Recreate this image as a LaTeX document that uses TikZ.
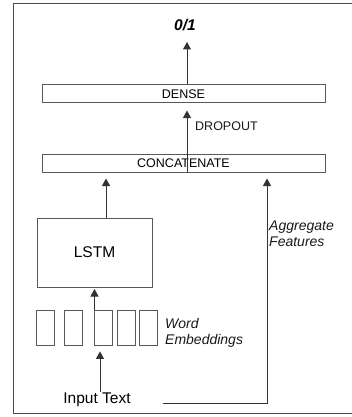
\documentclass[tikz,border=0pt]{standalone}
\usepackage{fontspec}
\setmainfont{Liberation Sans}
\usetikzlibrary{arrows.meta}
\begin{document}
\begin{tikzpicture}[x=1pt,y=-1pt,
  wire/.style={draw=black!80, line width=1pt},
  arr/.style={wire, -{Triangle[length=7.5pt,width=8pt]}, shorten >=6pt},
  layer/.style={draw=black!65, line width=1pt, minimum width=283pt, minimum height=18pt, inner sep=0pt, font=\fontsize{12.5}{14}\selectfont},
  emb/.style={draw=black!65, line width=0.8pt, minimum width=18pt, minimum height=35pt, inner sep=0pt},
  lbl/.style={font=\fontsize{14}{16}\selectfont\itshape, align=left, inner sep=0pt, text=black!90},
  big/.style={font=\fontsize{15.5}{18}\selectfont, inner sep=0pt, text=black}]
\useasboundingbox (0,0) rectangle (352,417);
\fill[white] (0,0) rectangle (352,417);
% frame
\draw[black!70, line width=1pt] (360,4) -- (13,4) -- (13,413) -- (360,413);
% layers
\node[layer] (dense) at (183.5,94) {DENSE};
\node[layer] (concat) at (183.5,163) {CONCATENATE};
\node[big, font=\fontsize{15.5}{18}\selectfont\bfseries\itshape] (out) at (185,25) {0/1};
\coordinate (outtip) at (187,42);
\draw[arr, shorten >=0pt] (dense.north -| outtip) -- (outtip);
% dropout
\coordinate (dx) at (187,0);
\draw[arr, shorten >=7pt] (concat.south -| dx) -- (dense.south -| dx);
\node[font=\fontsize{12.5}{14}\selectfont, inner sep=0pt, anchor=west, text=black!90] (drop) at (195,126) {DROPOUT};
% LSTM
\node[draw=black!65, line width=1pt, minimum width=115pt, minimum height=69pt, inner sep=0pt, font=\fontsize{15.5}{18}\selectfont] (lstm) at (94.5,252.5) {LSTM};
\coordinate (lx) at (106,0);
\draw[arr] (lstm.north -| lx) -- (concat.south -| lx);
% embeddings
\node[emb] (e1) at (45,327.5) {};
\node[emb] (e2) at (73.5,327.5) {};
\node[emb] (e3) at (103.5,327.5) {};
\node[emb] (e4) at (126,327.5) {};
\node[emb] (e5) at (148.5,327.5) {};
\node[lbl, anchor=west] (wlbl) at (165,333) {Word\\Embeddings};
\coordinate (ex) at (94.5,0);
\draw[arr, shorten >=1.5pt] (e3.north -| ex) -- (lstm.south -| ex);
% input
\node[big] (input) at (97,400) {Input Text};
\coordinate (ix) at (100,392);
\draw[arr] (ix) -- (e3.south -| ix);
% aggregate
\coordinate (ag) at (267,403);
\coordinate (agstart) at (163,403);
\draw[arr] (agstart) -- (ag) -- (concat.south -| ag);
\node[lbl, anchor=west] (alb) at (269,234) {Aggregate\\Features};
\end{tikzpicture}
\end{document}
